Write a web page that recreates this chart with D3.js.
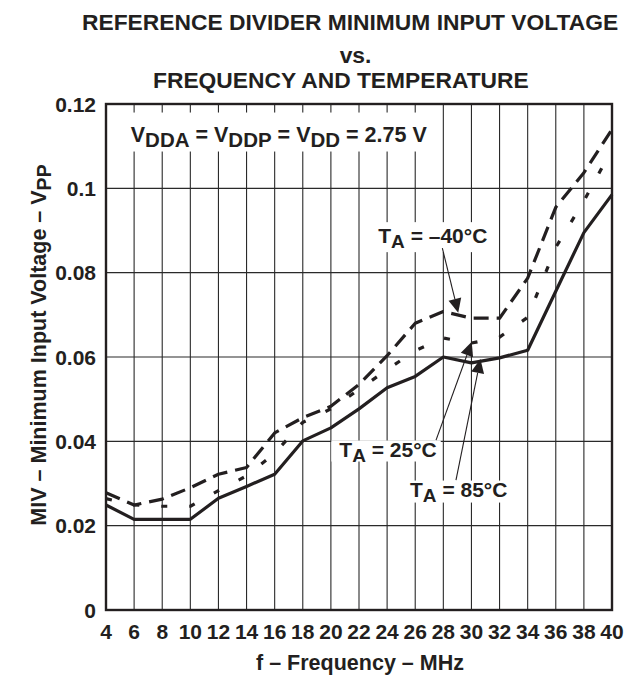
<!DOCTYPE html>
<html>
<head>
<meta charset="utf-8">
<script src="https://cdn.jsdelivr.net/npm/d3@7/dist/d3.min.js"></script>
<style>
    body { margin: 0; background: #fff; }
    text { font-family: "Liberation Sans", Arial, Helvetica, sans-serif; font-weight: bold; fill: #231f20; white-space: pre; }
</style>
</head>
<body>
<svg id="chart" width="643" height="677"></svg>
<script>
// frequency in MHz, MIV in V(pp)
const freq    = [4, 6, 8, 10, 12, 14, 16, 18, 20, 22, 24, 26, 28, 30, 32, 34, 36, 38, 40];
const mivM40  = [0.0278, 0.0249, 0.0263, 0.0290, 0.0322, 0.0338, 0.0420, 0.0456, 0.0483, 0.0535, 0.0603, 0.0680, 0.0708, 0.0692, 0.0692, 0.0787, 0.0955, 0.1037, 0.1140];
const miv25   = [0.0264, 0.0249, 0.0246, 0.0246, 0.0283, 0.0318, 0.0372, 0.0445, 0.0477, 0.0523, 0.0570, 0.0615, 0.0645, 0.0633, 0.0647, 0.0694, 0.0860, 0.0970, 0.1093];
const miv85   = [0.0249, 0.0215, 0.0215, 0.0215, 0.0265, 0.0293, 0.0322, 0.0401, 0.0432, 0.0477, 0.0527, 0.0554, 0.0600, 0.0586, 0.0598, 0.0616, 0.0756, 0.0895, 0.0985];

const xTicks = [4, 6, 8, 10, 12, 14, 16, 18, 20, 22, 24, 26, 28, 30, 32, 34, 36, 38, 40];
const yTicks = [0, 0.02, 0.04, 0.06, 0.08, 0.1, 0.12];
const yTickLabels = ["0", "0.02", "0.04", "0.06", "0.08", "0.1", "0.12"];

const titleLines = ["REFERENCE DIVIDER MINIMUM INPUT VOLTAGE", "vs.", "FREQUENCY AND TEMPERATURE"];

var svg = d3.select("#chart");
var plotLeft = 106, plotRight = 612, plotTop = 104, plotBottom = 610;

var x = d3.scaleLinear().domain([4, 40]).range([plotLeft, plotRight]);
var y = d3.scaleLinear().domain([0, 0.12]).range([plotBottom, plotTop]);

// title
svg.append("text").attr("x", 82).attr("y", 29.5).style("font-size", "22.8px").text(titleLines[0]);
svg.append("text").attr("x", 355.5).attr("y", 63).attr("text-anchor", "middle").style("font-size", "22.8px").text(titleLines[1]);
svg.append("text").attr("x", 153).attr("y", 88).style("font-size", "22.8px").text(titleLines[2]);

// grid
var grid = svg.append("g").attr("stroke", "#2a2a2a").attr("stroke-width", 1.1);
grid.selectAll(".vg")
    .data(xTicks.slice(1, -1))
    .enter().append("line")
    .attr("x1", d => x(d)).attr("x2", d => x(d))
    .attr("y1", plotTop).attr("y2", plotBottom);
grid.selectAll(".hg")
    .data(yTicks.slice(1, -1))
    .enter().append("line")
    .attr("x1", plotLeft).attr("x2", plotRight)
    .attr("y1", d => y(d)).attr("y2", d => y(d));

// tick labels
svg.append("g").selectAll("text")
    .data(xTicks)
    .enter().append("text")
    .attr("x", d => x(d)).attr("y", 638.5)
    .attr("text-anchor", "middle")
    .style("font-size", "21px")
    .text(d => d);
svg.append("g").selectAll("text")
    .data(yTicks)
    .enter().append("text")
    .attr("x", 96).attr("y", d => y(d) + 7.5)
    .attr("text-anchor", "end")
    .style("font-size", "21px")
    .text((d, i) => yTickLabels[i]);

// axis titles
svg.append("text").attr("x", 360).attr("y", 670).attr("text-anchor", "middle")
    .style("font-size", "21.5px").text("f – Frequency – MHz");
var yt = svg.append("text").attr("transform", "translate(46,345) rotate(-90)")
    .attr("text-anchor", "middle").style("font-size", "21.5px");
yt.append("tspan").text("MIV – Minimum Input Voltage – V");
yt.append("tspan").attr("dy", 5).style("font-size", "19.5px").text("PP");

// labels with white boxes (positions in data units)
function subLabel(parts, f, v, size, subSize, box) {
    var g = svg.append("g");
    var rect = g.append("rect").attr("fill", "#fff");
    var t = g.append("text").attr("x", x(f)).attr("y", y(v)).style("font-size", size + "px");
    var shift = 0;
    parts.forEach(function(p) {
        var s = t.append("tspan").text(p.t);
        if (p.sub) {
            s.attr("dy", 5 - shift).style("font-size", subSize + "px");
            shift = 5;
        } else if (shift) {
            s.attr("dy", -shift);
            shift = 0;
        }
    });
    var bb = t.node().getBBox();
    rect.attr("x", bb.x - box[0]).attr("width", bb.width + box[0] + box[1])
        .attr("y", y(v) - box[2]).attr("height", box[2] + box[3]);
    return g;
}

subLabel([{t: "V"}, {t: "DDA", sub: true}, {t: " = V"}, {t: "DDP", sub: true}, {t: " = V"}, {t: "DD", sub: true}, {t: " = 2.75 V"}],
    5.76, 0.1111, 21.5, 20.5, [3, 4, 29, 10]);
subLabel([{t: "T"}, {t: "A", sub: true}, {t: " = –40°C"}], 23.37, 0.0870, 21, 19, [4, 4, 21, 9]);
subLabel([{t: "T"}, {t: "A", sub: true}, {t: " = 25°C"}], 20.6, 0.0364, 21, 19, [8, 4, 16, 5]);
subLabel([{t: "T"}, {t: "A", sub: true}, {t: " = 85°C"}], 25.63, 0.0269, 21, 19, [2, 1, 16, 6]);

// frame
svg.append("rect")
    .attr("x", plotLeft).attr("y", plotTop)
    .attr("width", plotRight - plotLeft).attr("height", plotBottom - plotTop)
    .attr("fill", "none").attr("stroke", "#231f20").attr("stroke-width", 2.4);

// curves
var line = d3.line()
    .x(d => x(d[0]))
    .y(d => y(d[1]));

var series = [
    {vals: miv85, dash: null},
    {vals: miv25, dash: "6,22"},
    {vals: mivM40, dash: "15,8"}
];
series.forEach(function(s) {
    svg.append("path")
        .datum(freq.map((f, i) => [f, s.vals[i]]))
        .attr("d", line)
        .attr("fill", "none")
        .attr("stroke", "#231f20")
        .attr("stroke-width", 3.2)
        .attr("stroke-linejoin", "round")
        .attr("stroke-dasharray", s.dash);
});

// arrows from labels to curves
const arrows = [
    {f0: 27.93, v0: 0.0858, f1: 29.06, v1: 0.0705},
    {f0: 27.48, v0: 0.0403, f1: 30.02, v1: 0.0636},
    {f0: 28.90, v0: 0.0308, f1: 30.64, v1: 0.0595}
];
arrows.forEach(function(a) {
    var x1 = x(a.f0), y1 = y(a.v0), x2 = x(a.f1), y2 = y(a.v1);
    var dx = x2 - x1, dy = y2 - y1, len = Math.hypot(dx, dy);
    var ux = dx / len, uy = dy / len;
    var hl = 14, hw = 6.5;
    var bx = x2 - ux * hl, by = y2 - uy * hl;
    svg.append("line")
        .attr("x1", x1).attr("y1", y1).attr("x2", bx).attr("y2", by)
        .attr("stroke", "#231f20").attr("stroke-width", 1.1);
    svg.append("path")
        .attr("d", d3.line()([[x2, y2], [bx - uy * hw, by + ux * hw], [bx + uy * hw, by - ux * hw]]) + "Z")
        .attr("fill", "#231f20");
});
</script>
</body>
</html>
